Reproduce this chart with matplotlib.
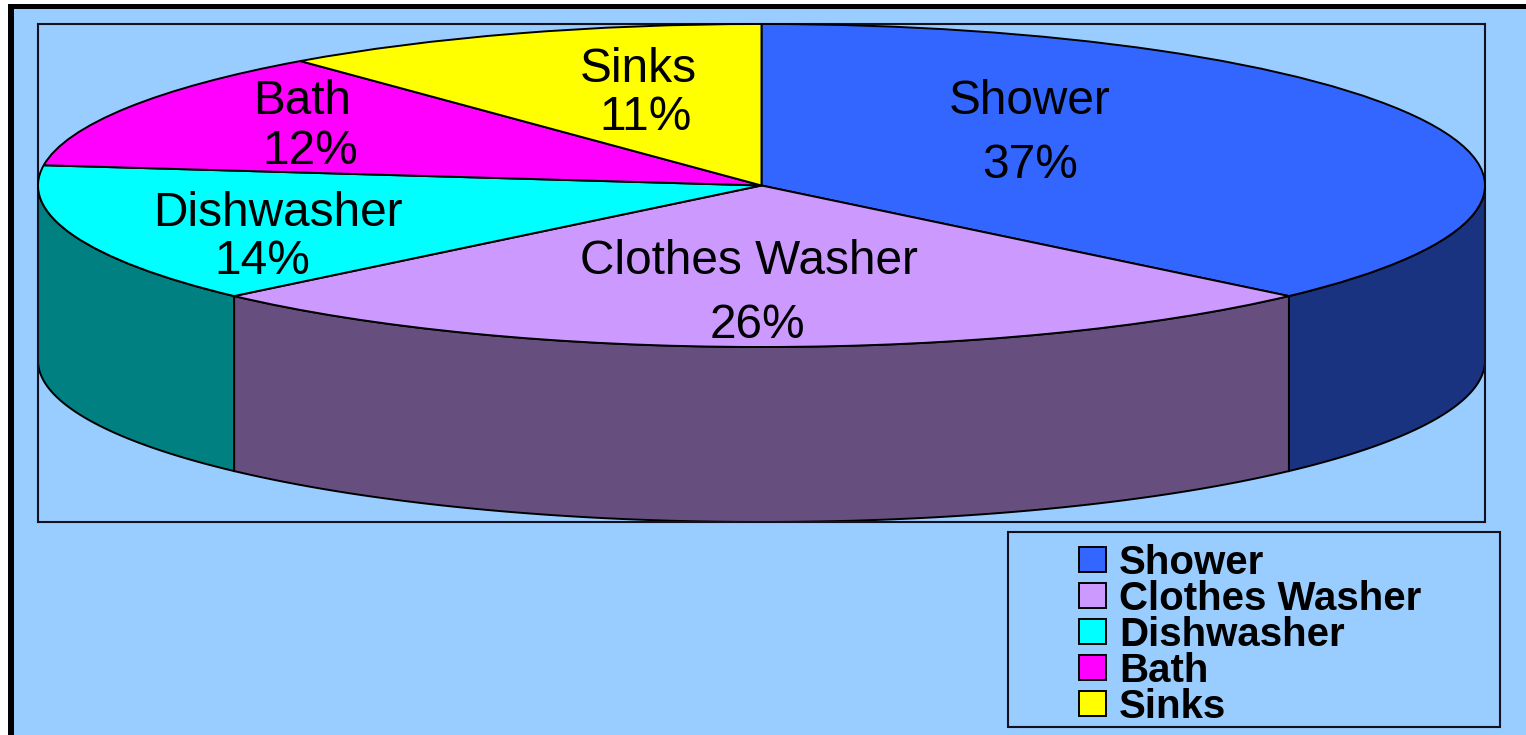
import numpy as np
import matplotlib
matplotlib.use('Agg')
import matplotlib.pyplot as plt
from matplotlib.patches import Rectangle

plt.rcParams['font.family'] = ['Liberation Sans', 'DejaVu Sans']

labels = ['Shower', 'Clothes Washer', 'Dishwasher', 'Bath', 'Sinks']
shares = [37, 26, 14, 12, 11]
top_colors = ['#3366FF', '#CC99FF', '#00FFFF', '#FF00FF', '#FFFF00']
side_colors = ['#1A3380', '#664F7F', '#008080', '#800080', '#808000']

W, H = 1526, 735
BG = '#99CCFF'
# label text centres in pixels
label_pos = {
    'Shower': ((1030, 102), (1030, 166)),
    'Clothes Washer': ((749, 262), (757, 326)),
    'Dishwasher': ((278, 214), (262, 262)),
    'Bath': ((302, 101), (310, 151)),
    'Sinks': ((638, 70), (646, 118)),
}


def fig_box(x0, y0, x1, y1):
    # pixel box (y down) to figure fractions
    return [x0 / W, 1 - y1 / H, (x1 - x0) / W, (y1 - y0) / H]


fig = plt.figure(figsize=(W / 100, H / 100), dpi=100, facecolor='white')
for box, col in [((8, 4, W, H), 'black'), ((14, 9, W, H), BG)]:
    l, b, w, h = fig_box(*box)
    fig.add_artist(Rectangle((l, b), w, h, transform=fig.transFigure, facecolor=col, edgecolor='none', zorder=-5))

ax = fig.add_axes(fig_box(38, 24, 1485, 522), facecolor='none')
wedges, _ = ax.pie(shares, startangle=90, counterclock=False, colors=top_colors,
                   wedgeprops={'edgecolor': 'black', 'linewidth': 1.4, 'zorder': 3})
ax.set_aspect('auto')
depth = 175 / 161.5
ax.set_xlim(-1, 1)
ax.set_ylim(-1 - depth, 1)
ax.set_frame_on(True)
for s in ax.spines.values():
    s.set_linewidth(1.5)
    s.set_color('#111122')

# side wall of the disc, only the front half shows
edges = np.cumsum([0] + shares) * 3.6
for i in range(len(shares)):
    a0, a1 = max(edges[i], 90), min(edges[i + 1], 270)
    if a1 <= a0:
        continue
    t = np.radians(np.linspace(a0, a1, 120))
    x = np.sin(t)
    y = np.cos(t)
    ax.fill(np.r_[x, x[::-1]], np.r_[y, y[::-1] - depth], facecolor=side_colors[i],
            edgecolor='black', linewidth=1.4, zorder=2, clip_on=False)

for name, share in zip(labels, shares):
    (nx, ny), (px, py) = label_pos[name]
    for (tx, ty), txt in [((nx, ny), name), ((px, py), f'{share}%')]:
        fig.text(tx / W, 1 - ty / H, txt, fontsize=34.4, color='black', ha='center', va='center')

# legend box
l, b, w, h = fig_box(1008, 532, 1500, 727)
fig.add_artist(Rectangle((l, b), w, h, transform=fig.transFigure, facecolor='none',
                         edgecolor='#111122', linewidth=1.5))
leg = fig.legend(wedges, labels, loc='upper left', bbox_to_anchor=(1079 / W, 1 - 544 / H), frameon=False,
                 borderaxespad=0, borderpad=0, handlelength=0.67, handleheight=0.57,
                 handletextpad=0.33, labelspacing=-0.05,
                 prop={'weight': 'bold', 'size': 29})

fig.savefig('out.png', dpi=100, facecolor=fig.get_facecolor())
